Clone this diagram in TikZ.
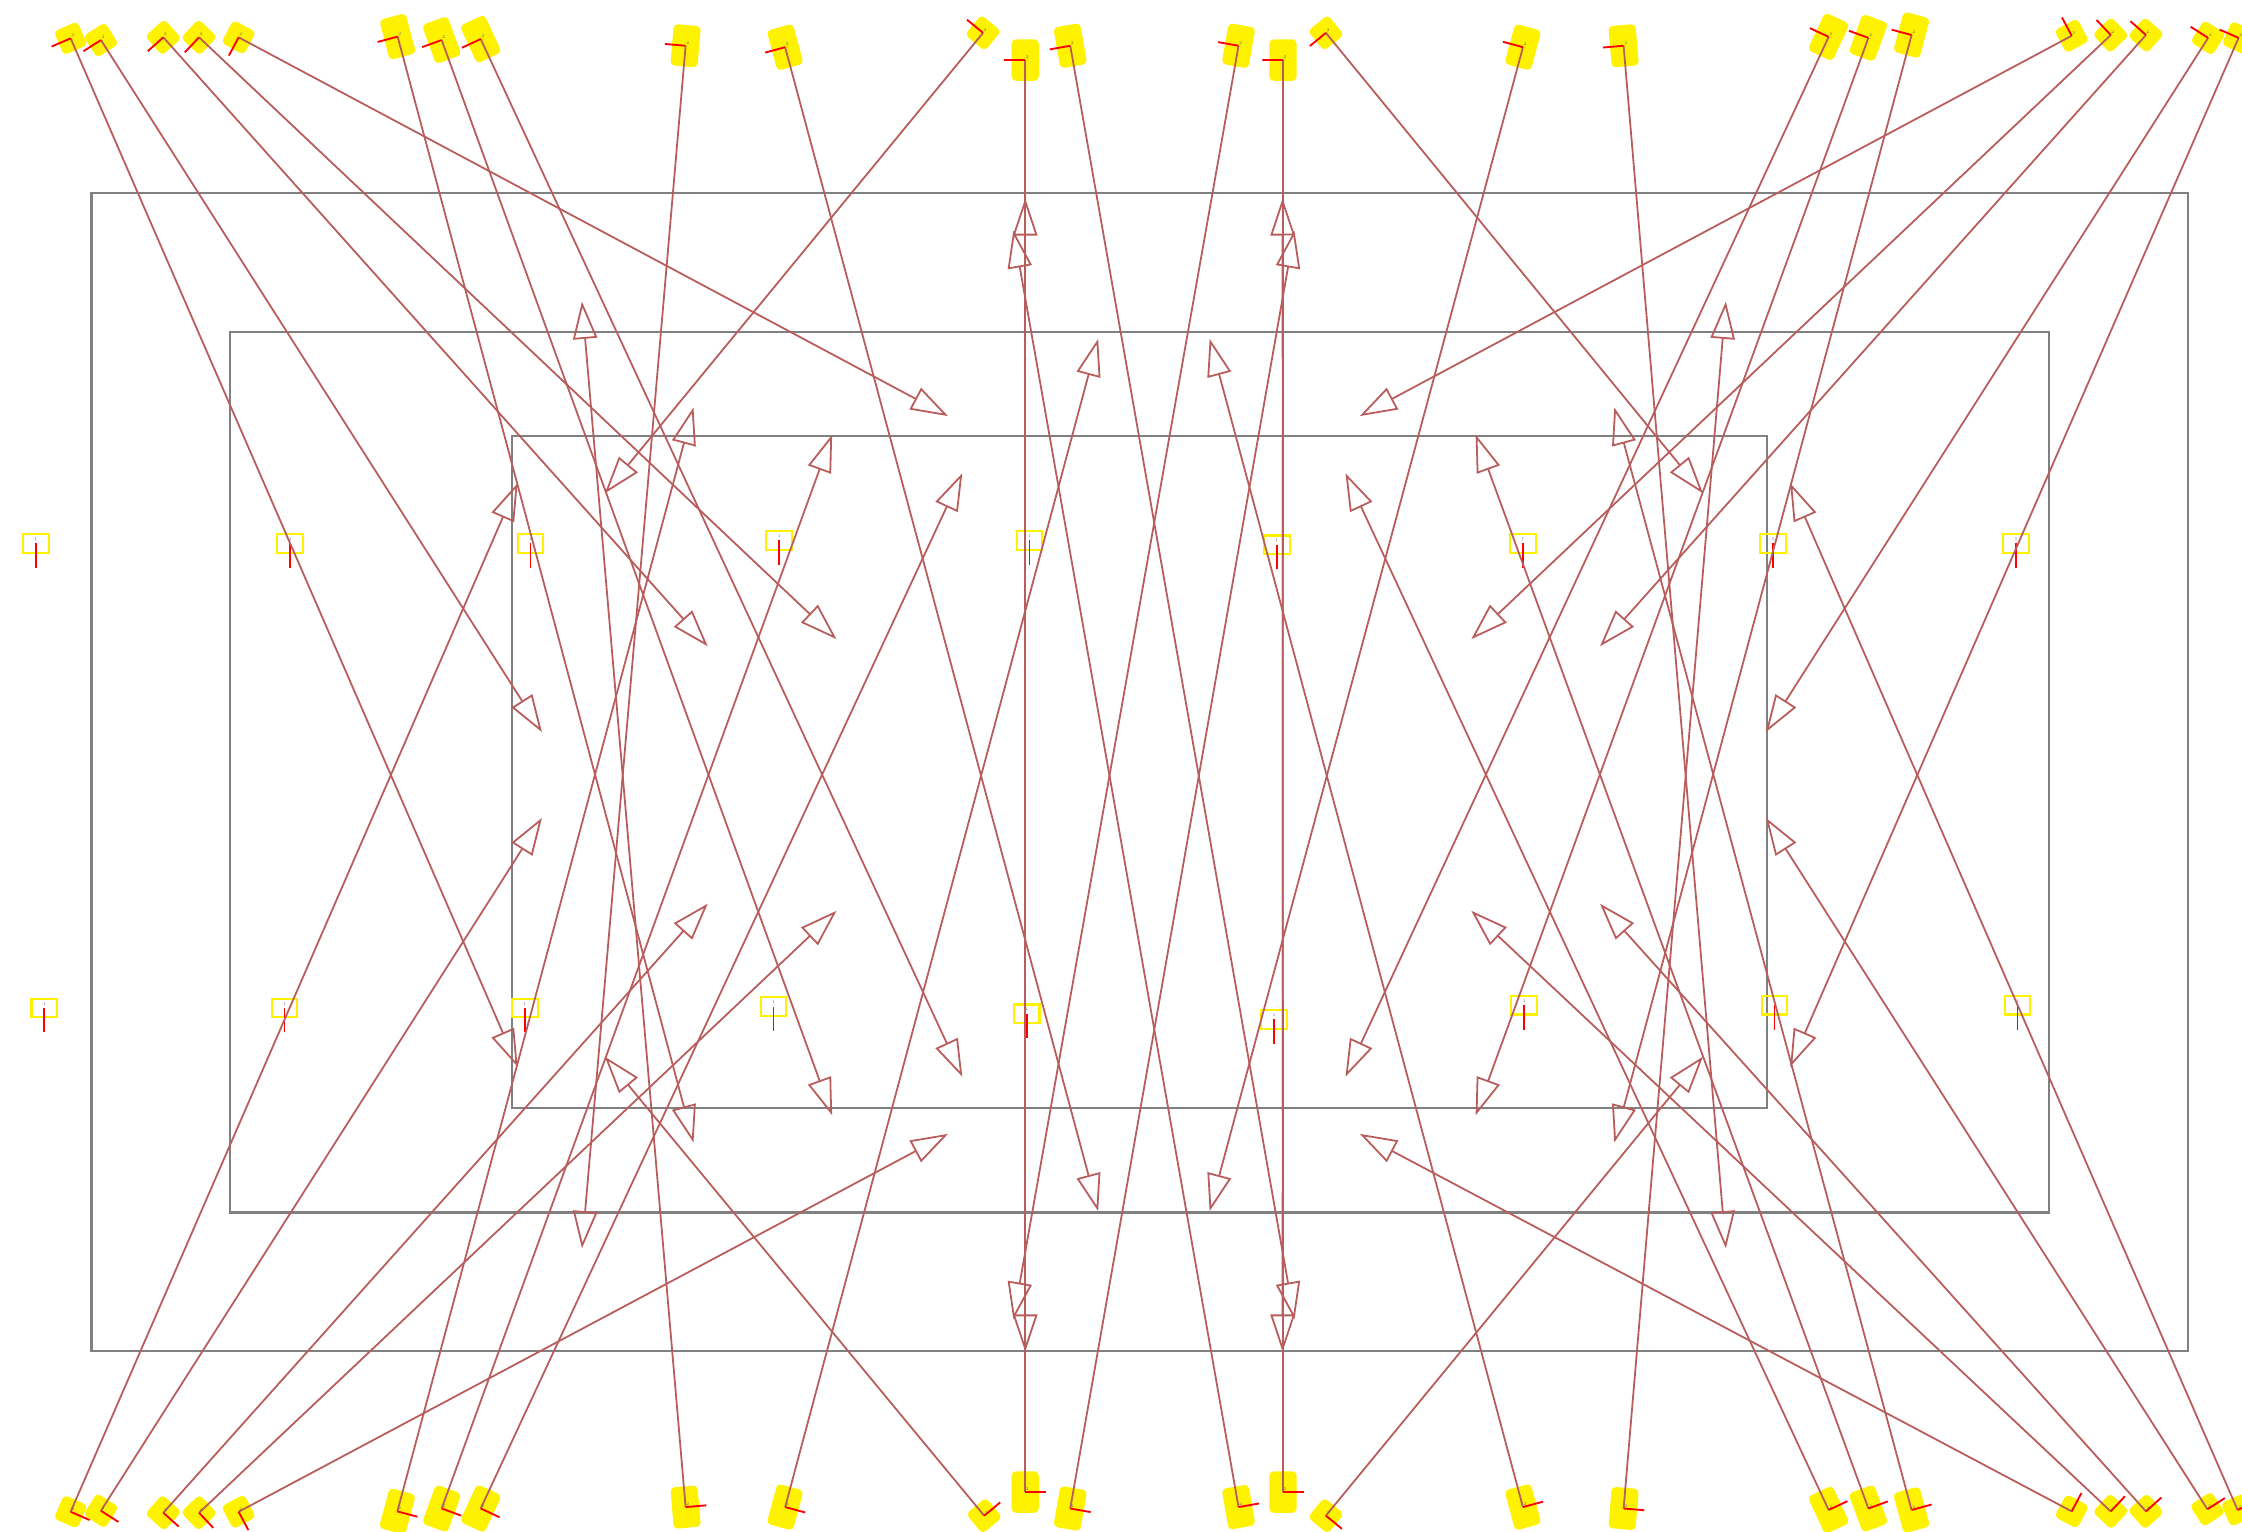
\documentclass[tikz,border=0pt]{standalone}
\usetikzlibrary{calc,arrows.meta}
\definecolor{edgec}{RGB}{184,92,92}
\definecolor{rectc}{RGB}{128,128,128}
\begin{document}
\begin{tikzpicture}[x=1pt,y=-1pt,
  rectline/.style={draw=rectc,line width=1.6pt},
  edge/.style={draw=edgec,line width=1.25pt,-{Triangle[open,length=26pt,width=17pt]}},
  blobt/.style={fill=yellow,draw=none,minimum width=29pt,minimum height=19pt,inner sep=0pt,rounded corners=3pt},
  blobs/.style={fill=yellow,draw=none,minimum width=18pt,minimum height=18pt,inner sep=0pt,rounded corners=3pt},
  tick/.style={draw=red,line width=1.3pt},
  tinytext/.style={font=\fontsize{3}{3}\selectfont,text=black!60,inner sep=0pt},
  midbox/.style={draw=yellow,line width=1.5pt,minimum width=18pt,minimum height=13pt,inner sep=0pt}]
\useasboundingbox (0,0) rectangle (1568,1071);
\def\lbls{L1/49.4/26.8/362/746/s, L2/70.6/28/379/512/s, L3/114.2/26.1/495/452/s, L4/139.2/26.1/585/447/s, L5/166.9/26.1/663/291/s,
 L6/278.1/25.6/485/799/t, L7/308.9/28/582/780/t, L8/336.2/27.3/673/753/t, L9/479.5/32/407/873/t, L10/549.1/33/768/847/t,
 L11/687.5/23/423/345/s, L12/717/42/717/945.3/t, L13/748.5/32/905.3/922.7/t, L14/866.2/32/708.7/922.7/t, L15/897.3/42/897/945.3/t,
 L16/927.3/23/1191/345/s, L17/1065.1/33/846/847/t, L18/1135.5/32/1207/873/t, L19/1278.9/25.8/941/753/t, L20/1306.7/26.5/1032/780/t,
 L21/1336.9/24.5/1129/799/t, L22/1448.9/25/951/291/s, L23/1476.2/24.5/1029/447/s, L24/1500.8/24.5/1119/452/s, L25/1544.3/26.5/1235/512/s,
 L26/1565.6/26.5/1252/746/s,
 B1/49.4/1057.3/362/338/s, B2/70.6/1056.6/379/572/s, B3/114.2/1058/495/632/s, B4/139.2/1058/585/637/s, B5/166.9/1057.3/663/793/s,
 B6/277.9/1057/485/285/t, B7/308.9/1055/582/304/t, B8/336.2/1055/673/331/t, B9/479.5/1054/407/211/t, B10/549.1/1054/768/237/t,
 B11/688.3/1060/423/739/s, B12/717/1043.5/717/138.7/t, B13/748.5/1055/905.3/161.3/t, B14/866.2/1054/708.7/161.3/t, B15/897.3/1043.5/897/138.7/t,
 B16/927.3/1060/1191/739/s, B17/1065.1/1054/846/237/t, B18/1135.5/1055/1207/211/t, B19/1278.9/1056/941/331/t, B20/1306.7/1055/1032/304/t,
 B21/1336.9/1056/1129/285/t, B22/1448.9/1057/951/793/s, B23/1476.2/1057/1029/637/s, B24/1500.8/1057/1119/632/s, B25/1543.8/1055.5/1235/572/s,
 B26/1564.9/1056/1252/338/s}
\def\mids{m1/25/380, m2/203/380, m3/371/380, m4/545/378, m5/720/378, m6/893/381, m7/1065/380, m8/1240/380, m9/1410/380,
 m10/31/705, m11/199/705, m12/367/705, m13/541/704, m14/718/709, m15/891/713, m16/1066/703, m17/1241/703, m18/1411/703}
% frames
\draw[rectline] (64,135) rectangle (1530,945);
\draw[rectline] (161,232) rectangle (1433,848);
\draw[rectline] (358,305) rectangle (1236,775);
% coordinates
\foreach \nm/\px/\py/\qx/\qy/\k in \lbls {
  \coordinate (\nm) at (\px,\py);
  \coordinate (\nm-t) at (\qx,\qy);
}
% label backgrounds
\foreach \nm/\px/\py/\qx/\qy/\k in \lbls {
  \path let \p1=($(\nm-t)-(\nm)$), \n1={atan2(\y1,\x1)} in
    node[blob\k,rotate=\n1] (\nm-b) at (\nm) {};
}
% middle boxes
\foreach \nm/\px/\py in \mids {
  \node[midbox] (\nm) at (\px,\py) {};
  \node[tinytext] (\nm-x) at ([yshift=3pt]\nm.center) {1};
  \draw[tick] (\nm.center) -- ++(0,17);
}
% connectors
\foreach \nm/\px/\py/\qx/\qy/\k in \lbls {
  \draw[edge] (\nm) -- (\nm-t);
}
% ticks and texts
\foreach \nm/\px/\py/\qx/\qy/\k in \lbls {
  \draw[tick] (\nm) -- ($(\nm)!14.5pt!-90:(\nm-t)$);
  \node[tinytext] (\nm-x) at ([shift={(1.5pt,2pt)}]\nm) {2};
}
\end{tikzpicture}
\end{document}
